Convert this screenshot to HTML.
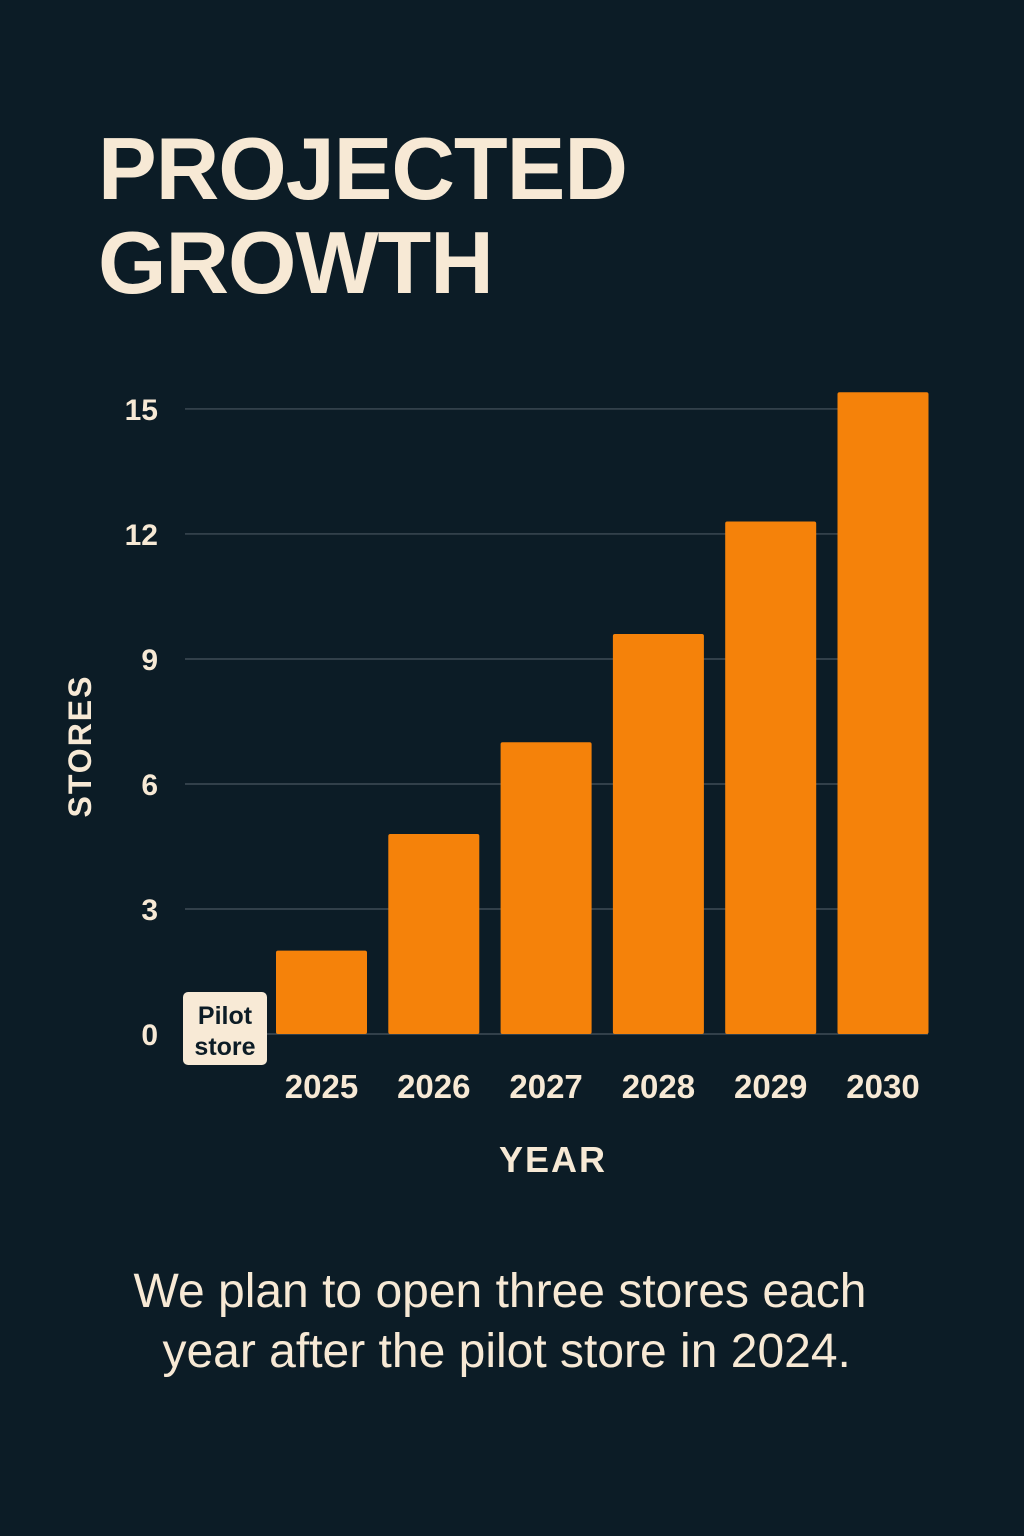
<!DOCTYPE html>
<html><head><meta charset="utf-8"><style>
body{margin:0;width:1024px;height:1536px;background:#0c1c26;overflow:hidden;font-family:"Liberation Sans",sans-serif;color:#f7e9d5}
#title{position:absolute;left:98px;top:122px;font-size:88px;font-weight:bold;line-height:94px;letter-spacing:-1px}
#caption{position:absolute;left:0;width:1000px;top:1262px;text-align:center;font-size:48px;line-height:60px}
svg{position:absolute;left:0;top:0}
</style></head><body>
<div id="title">PROJECTED<br>GROWTH</div>
<svg id="chart" width="1024" height="1536"></svg>
<div id="caption">We plan to open three stores each<br>&nbsp;year after the pilot store in 2024.</div>
<script>
const categories=["2025","2026","2027","2028","2029","2030"];
const values=[2.0,4.8,7.0,9.6,12.3,15.4];
const ticks=[0,3,6,9,12,15];
const NS="http://www.w3.org/2000/svg";
const svg=document.getElementById('chart');
const y0=1034,pxPer=41.67,x0=276,step=112.3,bw=91;
function y(v){return y0-v*pxPer;}
function xb(i){return x0+i*step;}
function mk(t,a,txt){const e=document.createElementNS(NS,t);for(const k in a)e.setAttribute(k,a[k]);if(txt!==undefined)e.textContent=txt;svg.appendChild(e);return e;}
ticks.forEach(t=>{
 const l=mk('line',{x1:185,x2:928,y1:y(t),y2:y(t),stroke:'#4a5660','stroke-width':1.2});
 
 
 const tx=mk('text',{x:158,y:y(t)+11,'text-anchor':'end','font-size':30,'font-weight':'bold',fill:'#f7e9d5'},String(t));
 
 
});
values.forEach((v,i)=>{
 const r=mk('rect',{x:xb(i),y:y(v),width:bw,height:y0-y(v),fill:'#f5820a',rx:2});
 
 
 const t=mk('text',{x:xb(i)+bw/2,y:1098,'text-anchor':'middle','font-size':33,'font-weight':'bold',fill:'#f7e9d5'},categories[i]);
 
 
});
const pb=mk('rect',{x:183,y:992,width:84,height:73,rx:5,fill:'#f8ead6'});


const p1=mk('text',{x:225,y:1024,'text-anchor':'middle','font-size':25,'font-weight':'bold',fill:'#0c1c26'},'Pilot');


const p2=mk('text',{x:225,y:1055,'text-anchor':'middle','font-size':25,'font-weight':'bold',fill:'#0c1c26'},'store');


const xt=mk('text',{x:553,y:1172,'text-anchor':'middle','font-size':36,'font-weight':'bold','letter-spacing':2,fill:'#f7e9d5'},'YEAR');


const yt=mk('text',{x:0,y:0,transform:'translate(91,746) rotate(-90)','text-anchor':'middle','font-size':32,'font-weight':'bold','letter-spacing':2,fill:'#f7e9d5'},'STORES');


</script>
</body></html>
